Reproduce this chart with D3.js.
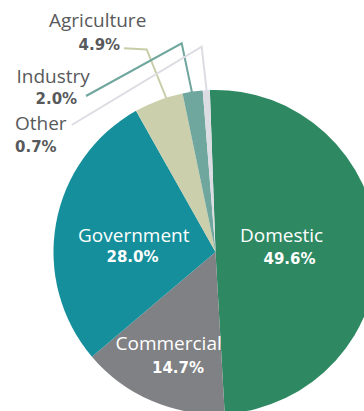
<!DOCTYPE html>
<html>
<head>
<meta charset="utf-8">
<script src="https://cdn.jsdelivr.net/npm/d3@7"></script>
<style>
  html, body { margin: 0; padding: 0; background: #fff; }
  svg { display: block; }
</style>
</head>
<body>
<svg id="chart" width="364" height="411"></svg>
<script>
// ---- data ----
const categories = ["Domestic", "Commercial", "Government", "Agriculture", "Industry", "Other"];
const values = [49.6, 14.7, 28.0, 4.9, 2.0, 0.7];
const valueLabels = ["49.6%", "14.7%", "28.0%", "4.9%", "2.0%", "0.7%"];
const colors = ["#2e8963", "#808184", "#158f9b", "#cbcfac", "#6fa69d", "#dcdde2"];

// ---- layout ----
const W = 364, H = 411;
const cx = 215.5, cy = 252, R = 162;
const startDeg = -2.0;

const svg = d3.select("#chart");

const pie = d3.pie().sort(null).value(d => d.value)
  .startAngle(startDeg * Math.PI / 180)
  .endAngle(startDeg * Math.PI / 180 + 2 * Math.PI);
const arc = d3.arc().innerRadius(0).outerRadius(R);

const rows = categories.map((c, i) => ({ name: c, value: values[i], label: valueLabels[i], color: colors[i] }));
const arcs = pie(rows);

// label layout (name baseline, pct baseline, x positions)
const labelLayout = {
  Domestic:    { nx: 240, ny: 241.7, px: 263.5, py: 264.3, inside: true },
  Commercial:  { nx: 115.5, ny: 350, px: 152, py: 372.7, inside: true },
  Government:  { nx: 78, ny: 241.7, px: 106.5, py: 261.7, inside: true },
  Agriculture: { nx: 49, ny: 27, px: 78.5, py: 50, inside: false,
                 leader: [[124, 48.3], [146.7, 49.5], [167, 100]] },
  Industry:    { nx: 16.5, ny: 82.5, px: 35.5, py: 104, inside: false,
                 leader: [[86, 96], [181.7, 43.3], [192.3, 94]] },
  Other:       { nx: 15, ny: 130, px: 15, py: 151.5, inside: false,
                 leader: [[71.7, 125], [201.7, 46.7], [207, 94]] }
};

// leader lines (drawn beneath the pie)
const lineGen = d3.line();
svg.append("g").selectAll("path")
  .data(arcs.filter(a => labelLayout[a.data.name].leader))
  .join("path")
  .attr("d", a => lineGen(labelLayout[a.data.name].leader))
  .attr("fill", "none")
  .attr("stroke", a => a.data.name === "Agriculture" ? "#c9cda7" : a.data.color)
  .attr("stroke-width", 2);

// slices
svg.append("g")
  .attr("transform", `translate(${cx},${cy})`)
  .selectAll("path")
  .data(arcs)
  .join("path")
  .attr("d", arc)
  .attr("fill", a => a.data.color);

// labels
const lg = svg.append("g");
arcs.forEach(a => {
  const L = labelLayout[a.data.name];
  const fill = L.inside ? "#ffffff" : "#58595b";
  lg.append("text")
    .attr("x", L.nx).attr("y", L.ny)
    .attr("font-family", "'Open Sans', sans-serif")
    .attr("font-size", 19)
    .attr("fill", fill)
    .text(a.data.name);
  lg.append("text")
    .attr("x", L.px).attr("y", L.py)
    .attr("font-family", "'DejaVu Sans', sans-serif")
    .attr("font-weight", "bold")
    .attr("font-size", 15)
    .attr("fill", fill)
    .text(a.data.label);
});
</script>
</body>
</html>
